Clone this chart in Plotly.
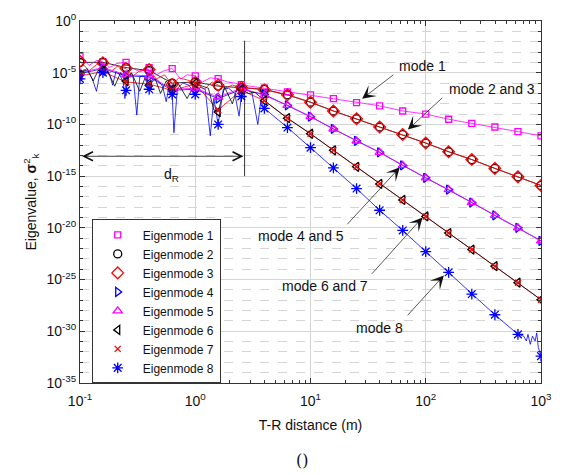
import numpy as np
import plotly.graph_objects as go

# ---------------------------------------------------------------------------
# Data: eigenvalue spectrum versus transmitter-receiver distance
# ---------------------------------------------------------------------------
# marker sample positions, five per decade (m)
distance_m = [0.1, 0.158, 0.251, 0.398, 0.631, 1.0, 1.58, 2.51, 3.98, 6.31,
              10.0, 15.8, 25.1, 39.8, 63.1, 100.0, 158.0, 251.0, 398.0, 631.0, 1000.0]

# eigenvalue exponents (log10 of sigma_k^2) at the marker positions
exp_mode1 = [-3.4, -3.95, -4.0, -4.5, -4.6, -5.3, -5.57, -6.15, -6.5, -6.85, -7.15,
             -7.5, -7.9, -8.2, -8.7, -9.0, -9.5, -9.9, -10.25, -10.7, -11.1]
exp_mode2 = [-4.0, -4.0, -4.5, -4.8, -6.0, -5.9, -6.3, -6.45, -6.6, -7.14, -7.85,
             -8.7, -9.46, -10.25, -10.98, -11.8, -12.64, -13.4, -14.25, -15.07, -15.9]
exp_mode3 = [-3.9, -4.05, -4.6, -4.7, -6.15, -5.95, -6.2, -6.4, -6.67, -7.14, -7.85,
             -8.7, -9.46, -10.25, -10.98, -11.8, -12.64, -13.4, -14.25, -15.07, -15.9]
exp_mode4 = [-5.1, -4.6, -5.3, -5.4, -6.7, -6.6, -7.5, -6.6, -7.1, -8.15, -9.25,
             -10.44, -11.6, -12.7, -13.96, -15.16, -16.3, -17.55, -18.8, -20.0, -21.25]
exp_mode5 = [-5.0, -4.5, -5.2, -5.3, -6.6, -6.5, -7.36, -6.5, -7.2, -8.15, -9.25,
             -10.44, -11.6, -12.7, -13.96, -15.16, -16.3, -17.55, -18.8, -20.0, -21.25]
exp_mode6 = [-5.2, -4.8, -5.8, -6.2, -6.6, -6.0, -8.8, -6.6, -7.7, -9.4, -10.9,
             -12.5, -14.1, -15.75, -17.3, -18.9, -20.5, -22.1, -23.7, -25.3, -26.95]
exp_mode7 = [-5.3, -4.9, -5.9, -6.1, -6.7, -6.1, -8.6, -6.7, -7.7, -9.4, -10.9,
             -12.5, -14.1, -15.75, -17.3, -18.9, -20.5, -22.1, -23.7, -25.3, -26.95]
exp_mode8 = [-5.6, -5.0, -6.7, -6.6, -7.1, -7.1, -10.0, -7.3, -8.45, -10.3, -12.25,
             -14.2, -16.2, -18.3, -20.25, -22.3, -24.3, -26.4, -28.4, -30.3, -32.4]

# near-field (x < 4 m) fine samples of the continuous curves, with interference nulls
near_x_mode1 = [0.1, 0.12, 0.14, 0.158, 0.18, 0.21, 0.251, 0.29, 0.33, 0.398, 0.46, 0.54,
                0.631, 0.75, 0.85, 1.0, 1.15, 1.35, 1.58, 1.9, 2.2, 2.51, 3.0]
near_e_mode1 = [-3.4, -4.3, -3.8, -3.95, -4.5, -4.1, -4.0, -4.6, -4.9, -4.5, -5.2, -4.8,
                -4.6, -5.6, -5.2, -5.3, -5.9, -5.5, -5.57, -5.9, -6.0, -6.15, -6.3]
near_x_mode3 = [0.1, 0.12, 0.14, 0.158, 0.18, 0.21, 0.251, 0.29, 0.33, 0.398, 0.46, 0.54,
                0.631, 0.72, 0.85, 1.0, 1.2, 1.4, 1.58, 1.8, 2.1, 2.51, 3.0]
near_e_mode3 = [-3.9, -4.8, -4.2, -4.05, -5.0, -4.4, -4.6, -5.3, -4.8, -4.7, -5.6, -5.2,
                -6.15, -5.5, -5.7, -5.95, -6.6, -5.9, -6.2, -6.5, -6.2, -6.4, -6.5]
near_x_mode6 = [0.1, 0.115, 0.13, 0.145, 0.158, 0.175, 0.2, 0.225, 0.251, 0.28, 0.33, 0.37,
                0.398, 0.45, 0.5, 0.56, 0.631, 0.7, 0.85, 1.0, 1.15, 1.3, 1.45, 1.58, 1.8,
                2.1, 2.3, 2.51, 2.9, 3.3]
near_e_mode6 = [-5.2, -4.6, -5.8, -4.7, -4.8, -4.9, -6.3, -5.0, -5.8, -5.0, -6.8, -5.4,
                -6.2, -5.6, -7.0, -5.8, -6.6, -5.9, -7.5, -6.0, -6.3, -6.5, -8.6, -8.8, -6.4,
                -8.0, -6.6, -6.6, -7.0, -6.9]
near_x_mode8 = [0.1, 0.108, 0.118, 0.128, 0.139, 0.15, 0.158, 0.17, 0.182, 0.192, 0.205,
                0.222, 0.238, 0.245, 0.251, 0.268, 0.29, 0.311, 0.33, 0.36, 0.398, 0.43,
                0.47, 0.52, 0.56, 0.6, 0.631, 0.653, 0.7, 0.78, 0.88, 1.0, 1.1, 1.22,
                1.35, 1.45, 1.58, 1.75, 1.95, 2.2, 2.4, 2.51, 2.8, 3.1, 3.49, 3.7]
near_e_mode8 = [-5.6, -4.7, -4.9, -5.6, -6.8, -4.8, -5.0, -4.7, -5.3, -6.2, -4.9,
                -5.2, -6.0, -7.5, -6.7, -5.1, -5.5, -9.1, -5.4, -5.3, -6.6, -5.5,
                -5.7, -6.3, -7.8, -6.0, -7.1, -10.8, -6.5, -6.0, -6.2, -7.1, -6.4, -6.6,
                -11.1, -7.5, -10.0, -6.6, -6.5, -7.0, -9.2, -7.3, -6.6, -6.9, -10.0, -7.8]
# numerical noise of mode 8 at the far end
tail_x_mode8 = [708, 746, 771, 807, 844, 889, 918, 948, 980]
tail_e_mode8 = [-30.47, -30.94, -30.3, -31.26, -30.47, -30.94, -30.16, -31.57, -32.05]

d_R = 2.68  # Rayleigh distance (m)

legend_names = [f"Eigenmode {k}" for k in range(1, 9)]
x_ticks = [0.1, 1, 10, 100, 1000]
x_tick_text = ["10<sup>-1</sup>", "10<sup>0</sup>", "10<sup>1</sup>", "10<sup>2</sup>", "10<sup>3</sup>"]
y_ticks = [10.0 ** -e for e in range(0, 36, 5)]
y_tick_text = ["10<sup>0</sup>"] + [f"10<sup>-{e}</sup>" for e in range(5, 36, 5)]

# ---------------------------------------------------------------------------
FONT = "Liberation Sans, Arial, Helvetica, sans-serif"
MAG, RED, BLUE, BLK = "#ff00ff", "#ff0000", "#0000ff", "#000000"

exps = [exp_mode1, exp_mode2, exp_mode3, exp_mode4, exp_mode5, exp_mode6, exp_mode7, exp_mode8]
colors = [MAG, BLK, RED, BLUE, MAG, BLK, RED, BLUE]
symbols = ["square-open", "circle-open", "diamond-open", "triangle-right-open",
           "triangle-up-open", "triangle-left-open", "x-thin-open", "asterisk-open"]
sizes = [6, 8, 9, 8, 8, 8, 6, 9]

near = {0: (near_x_mode1, near_e_mode1), 2: (near_x_mode3, near_e_mode3),
        5: (near_x_mode6, near_e_mode6), 7: (near_x_mode8, near_e_mode8)}

fig = go.Figure()

# continuous curves
for k in [6, 1, 3, 7, 2, 4, 0, 5]:
    e = exps[k]
    if k in near:
        nx, ne = near[k]
        xs = list(nx) + distance_m[8:]
        es = list(ne) + e[8:]
    else:
        xs, es = list(distance_m), list(e)
    if k == 7:
        xs = xs[:-1] + tail_x_mode8 + xs[-1:]
        es = es[:-1] + tail_e_mode8 + es[-1:]
    fig.add_trace(go.Scatter(
        x=xs, y=[10.0 ** v for v in es], mode="lines",
        line=dict(color=colors[k], width=0.8), showlegend=False, hoverinfo="skip"))

# Rayleigh-distance marker line
fig.add_trace(go.Scatter(x=[d_R, d_R], y=[10 ** -1.9, 1e-15], mode="lines",
                         line=dict(color="#333333", width=1), showlegend=False))

# markers
for k in range(8):
    fig.add_trace(go.Scatter(
        x=distance_m, y=[10.0 ** v for v in exps[k]], mode="markers",
        name=legend_names[k],
        marker=dict(symbol=symbols[k], size=sizes[k], color=colors[k],
                    line=dict(color=colors[k], width=1.3))))

# annotations -------------------------------------------------------------
def lg(v):
    return float(np.log10(v))

labels = [("mode 1", 1.972, -4.34), ("mode 2 and 3", 2.575, -6.58),
          ("mode 4 and 5", 0.919, -20.75), ("mode 6 and 7", 1.123, -25.6),
          ("mode 8", 1.599, -29.69)]
for txt, lx, ly in labels:
    fig.add_annotation(x=lx, y=ly, xref="x", yref="y", text=txt, showarrow=False,
                       font=dict(family=FONT, size=14, color="#111111"))

arrows = [((1.448, -7.52), (1.732, -5.09)), ((1.845, -10.5), (2.157, -7.29)),
          ((1.775, -14.15), (1.307, -19.8)), ((1.972, -18.99), (1.52, -24.6)),
          ((2.157, -24.6), (1.831, -28.6))]
for (tx, ty), (sx, sy) in arrows:
    fig.add_annotation(x=tx, y=ty, ax=sx, ay=sy, xref="x", yref="y", axref="x", ayref="y",
                       text="", showarrow=True, arrowhead=3, arrowsize=3.2, arrowwidth=0.7,
                       arrowcolor="#111111")

# d_R double arrow
fig.add_annotation(x=lg(d_R) - 0.01, y=-13.08, ax=-0.995, ay=-13.08, xref="x", yref="y",
                   axref="x", ayref="y", text="", showarrow=True, arrowside="end+start",
                   arrowhead=5, startarrowhead=5, arrowsize=2.2, startarrowsize=2.2,
                   arrowwidth=0.8, arrowcolor="#111111")
fig.add_annotation(x=-0.21, y=-14.9, xref="x", yref="y", text="d<sub>R</sub>",
                   showarrow=False, font=dict(family=FONT, size=14, color="#111111"))

# caption
fig.add_annotation(x=0.481, y=-0.213, xref="paper", yref="paper", yanchor="middle",
                   xanchor="center", text="()", showarrow=False,
                   font=dict(family="DejaVu Serif, serif", size=16, color="#111111"))

x_minor = [m * 10.0 ** d for d in range(-1, 3) for m in range(2, 10)]
y_minor = [10.0 ** -e for e in range(0, 36) if e % 5 != 0]

fig.update_layout(
    width=563, height=475,
    margin=dict(l=80, r=11, t=12, b=92),
    paper_bgcolor="white", plot_bgcolor="white",
    font=dict(family=FONT, size=14, color="#111111"),
    xaxis=dict(type="log", range=[-1, 3], tickvals=x_ticks, ticktext=x_tick_text,
               tickfont=dict(family=FONT, size=14), ticklabelstandoff=5,
               showgrid=True, gridcolor="#d4d4d4", gridwidth=1,
               ticks="inside", ticklen=5, tickcolor="#333333",
               showline=True, linecolor="#333333", linewidth=1, mirror="ticks",
               minor=dict(tickvals=x_minor, ticks="inside", ticklen=3, tickcolor="#333333",
                          showgrid=False),
               title=dict(text="T-R distance (m)", standoff=12,
                          font=dict(family=FONT, size=14)),
               zeroline=False),
    yaxis=dict(type="log", range=[-35, 0], tickvals=y_ticks, ticktext=y_tick_text,
               tickfont=dict(family=FONT, size=14),
               showgrid=True, gridcolor="#d4d4d4", gridwidth=1,
               ticks="inside", ticklen=5, tickcolor="#333333",
               showline=True, linecolor="#333333", linewidth=1, mirror="ticks",
               minor=dict(tickvals=y_minor, ticks="inside", ticklen=3, tickcolor="#333333",
                          showgrid=True, gridcolor="#d4d4d4", griddash="dash", gridwidth=1),
               title=dict(text="Eigenvalue, <b>σ</b><sup>2</sup><sub>k</sub>", standoff=6,
                          font=dict(family=FONT, size=14)),
               zeroline=False),
    legend=dict(x=0.0254, y=0.452, xanchor="left", yanchor="top",
                bgcolor="white", bordercolor="#333333", borderwidth=1,
                font=dict(family=FONT, size=12), itemwidth=40, tracegroupgap=0),
    showlegend=True,
)

fig.write_html("out.html")
